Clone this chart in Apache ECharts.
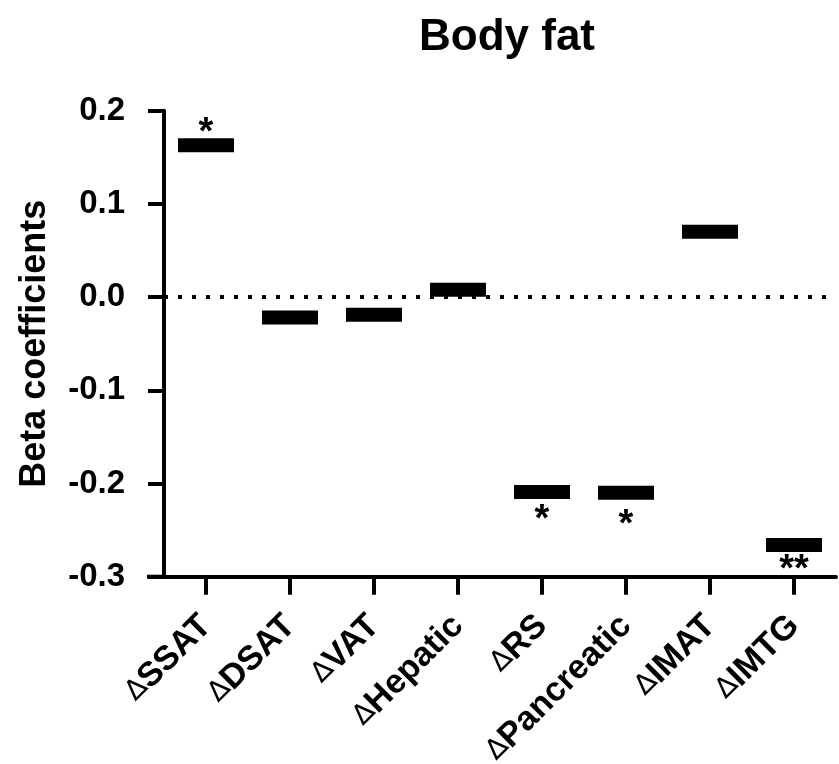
<!DOCTYPE html>
<html>
<head>
<meta charset="utf-8">
<script src="https://cdn.jsdelivr.net/npm/echarts@6/dist/echarts.min.js"></script>
<style>
  html, body { margin: 0; padding: 0; background: #fff; }
  #chart { width: 839px; height: 764px; }
</style>
</head>
<body>
<div id="chart"></div>
<script>
// data
const categories = ['SSAT', 'DSAT', 'VAT', 'Hepatic', 'RS', 'Pancreatic', 'IMAT', 'IMTG'];
const betas = [0.163, -0.022, -0.019, 0.008, -0.209, -0.210, 0.070, -0.266];
const stars = ['*', '', '', '', '*', '*', '', '**'];
const starSide = ['top', 'bottom', 'bottom', 'bottom', 'bottom', 'bottom', 'bottom', 'bottom'];
const starGap = [-14, 0, 0, 0, 3, 7, 0, 0];
const yTicks = [-0.3, -0.2, -0.1, 0.0, 0.1, 0.2];

const font = 'Liberation Sans, Arial, sans-serif';
const chart = echarts.init(document.getElementById('chart'));

chart.setOption({
    animation: false,
    title: {
        text: 'Body fat',
        left: 502,
        top: 11,
        textAlign: 'center',
        textStyle: { fontFamily: font, fontSize: 44, fontWeight: 'bold', color: '#000' }
    },
    grid: { left: 164, right: 3, top: 110.7, bottom: 187.3, containLabel: false, outerBoundsMode: 'none' },
    xAxis: [{
        type: 'category',
        data: categories,
        boundaryGap: true,
        axisLine: { show: true, onZero: false, lineStyle: { color: '#000', width: 4 } },
        axisTick: { show: true, alignWithLabel: true, interval: 0, length: 18, lineStyle: { color: '#000', width: 4 } },
        axisLabel: {
            rotate: 45, margin: 44, interval: 0,
            formatter: v => '{d|\u2206}{b|' + v + '}',
            rich: {
                d: { fontFamily: 'DejaVu Sans, sans-serif', fontSize: 28, fontWeight: 'normal', color: '#000' },
                b: { fontFamily: font, fontSize: 34, fontWeight: 'bold', color: '#000' }
            }
        }
    }, {
        // helper axis so the zero reference line spans the whole plot width
        type: 'value', min: 0, max: 1, show: false
    }],
    yAxis: {
        type: 'value',
        min: yTicks[0],
        max: yTicks[yTicks.length - 1],
        interval: 0.1,
        offset: 15,
        name: 'Beta coefficients',
        nameLocation: 'middle',
        nameGap: 96,
        nameTextStyle: { fontFamily: font, fontSize: 36, fontWeight: 'bold', color: '#000' },
        splitLine: { show: false },
        axisLine: { show: true, lineStyle: { color: '#000', width: 4 } },
        axisTick: { show: true, length: 16, lineStyle: { color: '#000', width: 4 } },
        axisLabel: {
            margin: 24, fontFamily: font, fontSize: 33, fontWeight: 'bold', color: '#000',
            formatter: v => v.toFixed(1)
        }
    },
    graphic: [{
        type: 'line',
        shape: { x1: 147, y1: 576.7, x2: 166, y2: 576.7 },
        style: { stroke: '#000', lineWidth: 4 }
    }],
    series: [{
        type: 'line',
        xAxisIndex: 1,
        z: 1,
        silent: true,
        symbol: 'none',
        lineStyle: { color: '#000', width: 4, type: [4, 10] },
        data: [[0, 0], [1, 0]]
    }, {
        type: 'scatter',
        z: 3,
        symbol: 'rect',
        symbolSize: [56, 14],
        itemStyle: { color: '#000', opacity: 1 },
        data: betas.map((b, i) => ({
            value: [i, b],
            label: {
                show: stars[i] !== '',
                formatter: stars[i],
                position: starSide[i],
                distance: starGap[i],
                fontFamily: font, fontSize: 38, fontWeight: 'bold', color: '#000'
            }
        }))
    }]
});
</script>
</body>
</html>
